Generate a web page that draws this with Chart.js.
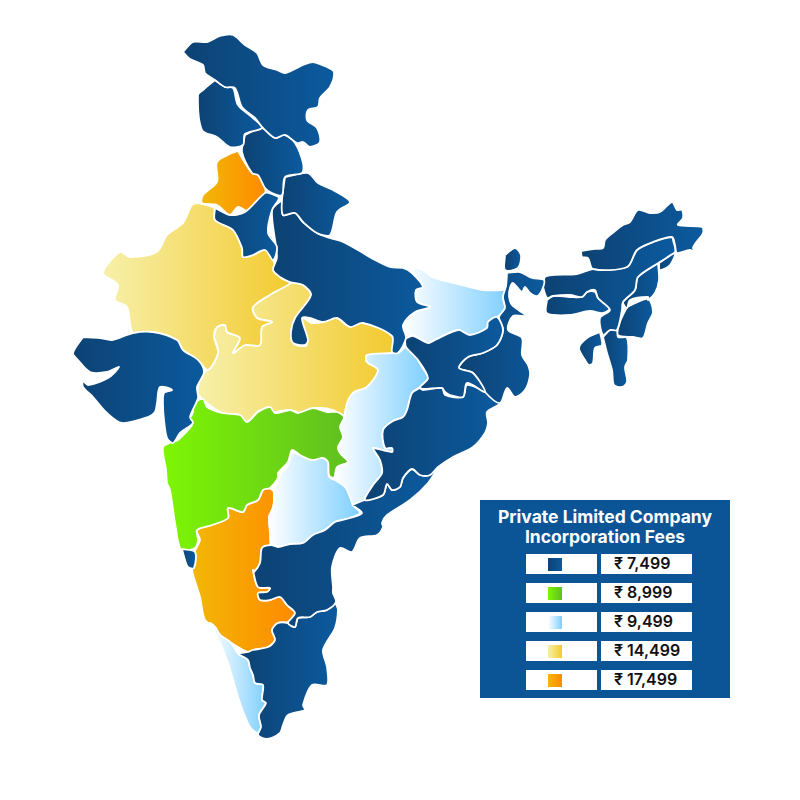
<!DOCTYPE html>
<html>
<head>
<meta charset="utf-8">
<title>Private Limited Company Incorporation Fees</title>
<script src="https://cdn.jsdelivr.net/npm/chart.js@4/dist/chart.umd.min.js"></script>
<style>
  html, body { margin: 0; padding: 0; background: #fff; }
  #wrap { position: relative; width: 800px; height: 800px; }
  #panel {
    position: absolute; left: 480px; top: 500px; width: 250px; height: 198px;
    background: #0b5597; font-family: Inter, "Noto Sans", sans-serif;
  }
  #panel h1 {
    margin: 0; position: absolute; left: 0; top: 7px; width: 250px;
    color: #fff; text-align: center; font-size: 17.5px; line-height: 20px; font-weight: 700;
  }
  .box { position: absolute; background: #fff; height: 20px; }
  .swatch { position: absolute; left: 22px; top: 4px; width: 14px; height: 13px; }
  .fee {
    font-size: 16px; font-weight: 600; line-height: 19px; color: #111;
    padding-left: 13px; white-space: nowrap; box-sizing: border-box;
  }
</style>
</head>
<body>
<div id="wrap">
  <canvas id="chart" width="800" height="800"></canvas>
  <div id="panel"><h1>Private Limited Company<br>Incorporation Fees</h1></div>
</div>
<script>
// legend
const feeLabels = ['₹ 7,499', '₹ 8,999', '₹ 9,499', '₹ 14,499', '₹ 17,499'];
const tierColors = [
  ['#0d4273', '#0b5a9e'],
  ['#7ef604', '#60bf20'],
  ['#ffffff', '#7ecfff'],
  ['#f7f0aa', '#f3cb30'],
  ['#f2b705', '#ff8a00'],
];

// state outlines in map units
const ladakh = [[183,52],[193,42],[207,42],[220,36],[233,35],[245,45],[257,53],[263,65],[277,70],[285,73],[295,69],[303,65],[313,62],[327,67],[334,72],[330,87],[320,98],[318,107],[308,110],[307,120],[317,128],[320,142],[310,147],[303,142],[297,143],[285,135],[275,138],[263,128],[255,118],[242,107],[235,88],[225,87],[215,80],[205,73],[203,65],[190,59]];
const kashmir = [[215,80],[225,87],[233,88],[238,105],[253,118],[262,128],[245,134],[243,145],[230,147],[217,137],[202,130],[198,95],[203,90]];
const himachal = [[245,135],[262,128],[275,138],[285,135],[295,143],[303,163],[302,173],[285,177],[282,195],[272,193],[265,188],[258,175],[252,173],[242,152]];
const punjab = [[238,151],[245,163],[252,173],[258,175],[265,188],[265,193],[250,212],[238,207],[230,215],[217,205],[202,203],[203,195],[217,182],[217,162],[232,153]];
const uttarakhand = [[285,177],[308,173],[318,183],[333,190],[350,202],[337,212],[330,235],[317,233],[303,222],[295,213],[283,215],[282,200]];
const haryana = [[215,208],[230,215],[245,212],[265,193],[272,194],[279,198],[272,210],[268,233],[277,247],[273,260],[265,250],[253,255],[243,257],[242,248],[233,230],[215,220]];
const delhi = [[267,233],[273,238],[272,243],[263,242]];
const uttarPradesh = [[282,200],[283,215],[295,213],[303,222],[317,233],[330,238],[343,242],[363,253],[375,260],[390,267],[403,268],[412,273],[423,287],[416,290],[417,302],[430,307],[415,312],[403,325],[406,338],[398,353],[392,352],[392,336],[363,323],[350,327],[337,318],[323,322],[310,318],[302,318],[308,340],[305,345],[293,343],[291,332],[295,318],[311,295],[303,285],[290,282],[280,277],[273,270],[277,257],[272,210]];
const rajasthan = [[198,203],[214,208],[215,220],[233,230],[242,248],[243,257],[253,255],[265,250],[273,260],[280,277],[290,283],[273,293],[253,307],[257,318],[272,322],[262,327],[260,345],[245,345],[233,353],[240,338],[227,332],[225,325],[217,327],[214,337],[218,353],[208,370],[198,360],[183,350],[177,340],[153,332],[133,333],[127,307],[115,300],[118,285],[103,273],[120,252],[130,257],[157,252],[167,235],[183,223],[192,205]];
const madhyaPradesh = [[214,337],[217,327],[225,325],[227,332],[240,338],[233,353],[245,345],[260,345],[262,327],[272,322],[257,318],[253,307],[273,293],[292,283],[303,285],[311,295],[302,313],[295,318],[291,333],[294,344],[307,345],[302,318],[312,323],[323,322],[337,318],[347,325],[363,323],[392,336],[392,353],[367,355],[367,362],[378,370],[367,387],[353,393],[345,417],[333,410],[317,408],[303,413],[290,410],[273,412],[260,410],[247,422],[240,415],[223,413],[207,403],[198,393],[200,380],[205,372],[218,353]];
const gujarat = [[83,337],[100,338],[112,340],[133,333],[153,332],[177,340],[183,350],[198,360],[204,372],[197,387],[198,398],[190,417],[193,423],[180,433],[173,443],[167,438],[164,420],[163,405],[164,393],[172,390],[160,387],[157,403],[155,412],[148,417],[122,423],[107,413],[93,397],[83,387],[83,381],[88,385],[108,378],[119,367],[107,372],[90,372],[78,360],[73,353]];
const maharashtra = [[193,403],[203,399],[207,407],[222,413],[240,415],[247,422],[258,412],[270,407],[275,413],[290,410],[298,413],[313,408],[327,412],[337,412],[344,417],[340,427],[343,437],[338,447],[340,453],[348,462],[337,467],[334,478],[329,475],[328,462],[323,458],[312,460],[300,455],[292,450],[288,462],[278,473],[278,478],[270,488],[263,490],[258,500],[247,505],[243,512],[228,508],[228,518],[212,525],[197,530],[198,540],[195,548],[187,550],[180,548],[175,523],[170,490],[167,483],[166,470],[163,447],[172,442],[178,440],[192,425],[183,428],[190,418],[193,412]];
const goa = [[182,549],[195,552],[194,568],[188,567],[185,560]];
const karnataka = [[268,487],[274,492],[273,507],[269,517],[271,533],[270,545],[262,548],[260,563],[254,572],[253,570],[258,587],[270,588],[267,592],[258,593],[260,600],[270,600],[280,597],[287,605],[295,613],[288,622],[278,623],[272,630],[275,640],[268,647],[253,650],[248,652],[238,647],[230,642],[220,635],[215,627],[205,620],[200,597],[192,570],[194,560],[194,553],[200,540],[197,530],[212,525],[228,518],[228,508],[243,512],[247,505],[258,500],[263,490]];
const telangana = [[292,452],[300,455],[312,460],[323,458],[328,462],[329,477],[335,480],[345,487],[350,497],[353,505],[360,513],[350,518],[335,522],[325,530],[313,535],[303,543],[290,544],[278,547],[271,545],[270,533],[269,517],[274,507],[274,492],[280,475],[288,465]];
const chhattisgarh = [[392,353],[398,353],[407,347],[418,360],[422,367],[428,378],[420,387],[412,393],[407,410],[403,417],[393,421],[383,430],[385,448],[392,448],[392,452],[373,448],[375,452],[380,460],[382,473],[373,485],[365,498],[363,502],[352,503],[345,487],[335,480],[337,468],[348,462],[340,453],[338,447],[343,437],[340,427],[344,417],[347,403],[353,393],[367,387],[378,370],[367,362],[367,355]];
const bihar = [[415,267],[423,270],[432,277],[453,283],[470,287],[483,290],[502,290],[509,288],[503,297],[505,308],[500,315],[488,322],[487,328],[470,335],[458,330],[435,340],[428,343],[413,335],[405,338],[403,325],[416,312],[430,307],[417,302],[416,290],[423,287],[412,273]];
const jharkhand = [[405,339],[413,336],[428,343],[435,340],[458,330],[470,335],[487,328],[488,322],[497,317],[503,330],[497,345],[483,353],[468,357],[459,368],[473,373],[485,392],[467,383],[463,397],[450,395],[445,392],[442,388],[423,389],[420,387],[428,378],[418,360],[406,347]];
const westBengal = [[507,273],[520,272],[532,278],[544,280],[542,290],[537,296],[530,293],[525,287],[522,292],[513,283],[510,288],[509,296],[512,305],[526,316],[513,316],[508,330],[522,338],[522,355],[528,365],[530,375],[525,390],[515,397],[507,388],[500,403],[485,392],[473,373],[459,368],[468,357],[483,353],[497,345],[503,330],[499,317],[505,308],[503,297],[506,286]];
const sikkim = [[505,255],[515,248],[521,255],[518,268],[505,270]];
const odisha = [[420,388],[423,390],[442,388],[445,395],[463,397],[467,385],[485,392],[500,403],[487,412],[488,423],[485,433],[473,447],[453,457],[438,467],[430,475],[420,475],[412,469],[403,478],[400,487],[392,490],[387,484],[383,495],[365,500],[373,485],[382,473],[380,460],[375,452],[373,448],[392,452],[392,448],[385,448],[383,430],[393,421],[403,417],[407,410],[412,393]];
const andhra = [[352,505],[365,500],[383,495],[387,484],[392,490],[400,487],[403,478],[412,469],[420,475],[430,475],[438,467],[428,483],[410,500],[387,515],[382,523],[383,527],[377,535],[360,538],[352,552],[340,548],[332,567],[333,587],[333,593],[336,602],[327,610],[317,612],[310,617],[298,618],[295,627],[288,623],[295,613],[287,605],[280,597],[270,600],[260,600],[258,593],[267,592],[270,588],[258,587],[253,570],[254,572],[260,563],[262,548],[271,545],[278,547],[290,544],[303,543],[313,535],[325,530],[335,522],[350,518],[362,513]];
const tamilNadu = [[336,604],[338,610],[335,628],[323,650],[327,667],[327,685],[312,685],[303,705],[305,710],[288,715],[283,725],[280,733],[267,739],[258,735],[261,727],[259,715],[266,703],[262,700],[263,685],[255,683],[253,675],[250,668],[248,660],[239,654],[248,652],[253,650],[268,647],[275,640],[272,630],[278,623],[288,623],[295,627],[298,618],[310,617],[317,612],[327,610],[333,603]];
const kerala = [[238,654],[248,660],[250,668],[253,675],[255,683],[263,685],[262,700],[266,703],[259,715],[261,727],[258,733],[250,727],[240,703],[228,663],[220,643],[210,623],[215,627],[220,635],[230,642]];
const arunachal = [[581,251],[593,249],[603,248],[605,240],[614,232],[623,225],[630,222],[638,210],[650,213],[660,212],[672,202],[677,210],[682,210],[683,218],[678,225],[702,227],[703,233],[693,248],[699,254],[690,250],[677,253],[675,245],[672,237],[653,242],[637,250],[627,267],[593,269],[588,258],[582,257]];
const arunachalTip = [[659,263],[675,253],[670,265],[660,270]];
const assam = [[543,287],[545,277],[553,275],[577,274],[593,269],[627,267],[637,250],[653,242],[672,237],[673,240],[675,252],[660,262],[638,277],[635,290],[623,302],[622,310],[617,330],[610,330],[603,335],[600,318],[610,310],[598,298],[595,290],[587,292],[582,297],[570,295],[553,296],[547,298]];
const meghalaya = [[547,300],[553,296],[570,297],[582,297],[587,292],[595,292],[598,298],[610,308],[603,313],[590,311],[570,315],[553,315],[546,312]];
const nagaland = [[658,263],[659,280],[655,293],[648,300],[648,297],[630,300],[627,308],[623,302],[635,290],[638,277]];
const manipur = [[627,307],[648,299],[653,312],[648,323],[643,338],[633,337],[618,335],[620,322]];
const mizoram = [[603,337],[610,330],[617,330],[618,337],[627,338],[628,360],[625,367],[627,382],[622,387],[614,385],[612,370],[607,353]];
const tripura = [[600,332],[602,345],[595,348],[593,363],[589,365],[585,360],[579,348],[587,338]];

// states per fee tier, same order as feeLabels
const tierStates = [
  [ladakh, kashmir, himachal, uttarakhand, haryana, delhi, uttarPradesh, gujarat, goa, jharkhand, westBengal, sikkim, odisha, andhra, tamilNadu, arunachal, arunachalTip, assam, meghalaya, nagaland, manipur, mizoram, tripura],
  [maharashtra],
  [telangana, chhattisgarh, bihar, kerala],
  [rajasthan, madhyaPradesh],
  [punjab, karnataka],
];

function stateGradient(context, outline, colors) {
  const chart = context.chart;
  if (!chart.chartArea) return colors[1];
  const xs = outline.map(p => p[0]);
  const x0 = chart.scales.x.getPixelForValue(Math.min(...xs));
  const x1 = chart.scales.x.getPixelForValue(Math.max(...xs));
  const g = chart.ctx.createLinearGradient(x0, 0, x1, 0);
  g.addColorStop(0, colors[0]);
  g.addColorStop(1, colors[1]);
  return g;
}

const datasets = [];
tierStates.forEach((states, tier) => {
  states.forEach(outline => {
    datasets.push({
      data: outline.concat([outline[0]]).map(p => ({ x: p[0], y: p[1] })),
      showLine: true,
      fill: 'shape',
      backgroundColor: ctx => stateGradient(ctx, outline, tierColors[tier]),
      borderColor: '#ffffff',
      borderWidth: 1.8,
      borderJoinStyle: 'round',
      tension: 0.3,
      pointRadius: 0,
      pointHoverRadius: 0,
    });
  });
});

new Chart(document.getElementById('chart').getContext('2d'), {
  type: 'scatter',
  data: { datasets },
  options: {
    responsive: false,
    animation: false,
    events: [],
    layout: { padding: 0 },
    plugins: { legend: { display: false }, tooltip: { enabled: false } },
    scales: {
      x: { type: 'linear', display: false, min: 0, max: 800 },
      y: { type: 'linear', display: false, min: 0, max: 800, reverse: true },
    },
  },
});

// fee legend panel
const panel = document.getElementById('panel');
const rowTops = [54, 83, 112, 141, 170];
feeLabels.forEach((label, i) => {
  const left = document.createElement('div');
  left.className = 'box';
  left.style.cssText = `left:46px;top:${rowTops[i]}px;width:71px`;
  const swatch = document.createElement('div');
  swatch.className = 'swatch';
  swatch.style.background = `linear-gradient(90deg, ${tierColors[i][0]}, ${tierColors[i][1]})`;
  left.appendChild(swatch);
  const right = document.createElement('div');
  right.className = 'box fee';
  right.style.cssText = `left:121px;top:${rowTops[i]}px;width:91px`;
  right.textContent = label;
  panel.appendChild(left);
  panel.appendChild(right);
});
</script>
</body>
</html>
